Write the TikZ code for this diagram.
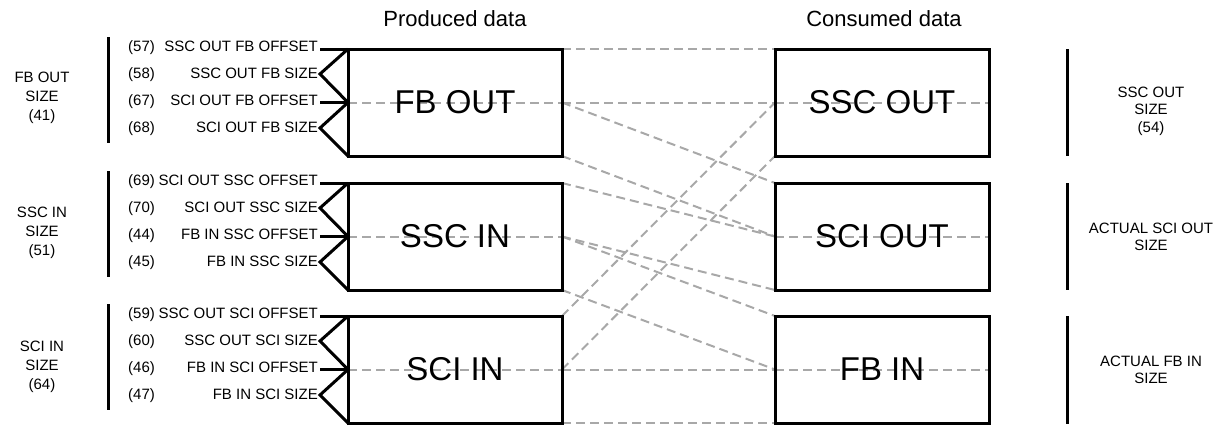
\documentclass[tikz,border=0pt]{standalone}
\usepackage{fontspec}
\setmainfont{Liberation Sans}
\usetikzlibrary{backgrounds}
\definecolor{lnk}{RGB}{168,168,168}
\begin{document}
\begin{tikzpicture}[x=1pt,y=-1pt,
  box/.style={draw=black, line width=3pt, minimum width=214pt, minimum height=107pt,
    inner sep=0pt, outer sep=0pt, font=\fontsize{33}{36}\selectfont},
  link/.style={draw=lnk, line width=2pt, dash pattern=on 9pt off 5pt},
  thk/.style={line width=3pt},
  num/.style={anchor=west, inner sep=0pt, text height=11pt, text depth=3pt, font=\fontsize{15}{17}\selectfont},
  par/.style={anchor=east, inner ysep=0pt, inner xsep=2pt, text height=11pt, text depth=3pt, font=\fontsize{15}{17}\selectfont},
  side/.style={align=center, inner sep=0pt, font=\fontsize{15}{19}\selectfont},
  rside/.style={align=center, inner sep=0pt, font=\fontsize{15}{17.5}\selectfont},
  head/.style={inner sep=0pt, font=\fontsize{22}{26}\selectfont},
  bar/.style={line width=3pt},
]
\useasboundingbox (0,0) rectangle (1223,424);

% headings
\node[head] (hp) at (455,19) {Produced data};
\node[head] (hc) at (884,19) {Consumed data};

% boxes
\node[box] (FBO)  at (455,102.5) {FB OUT};
\node[box] (SSCI) at (455,236.5) {SSC IN};
\node[box] (SCII) at (455,369.5) {SCI IN};
\node[box] (SSCO) at (882,102.5) {SSC OUT};
\node[box] (SCIO) at (882,236.5) {SCI OUT};
\node[box] (FBI)  at (882,369.5) {FB IN};

% left side labels and bars
\node[side] (l1) at (42,98) {FB OUT\\SIZE\\(41)};
\node[side] (l2) at (42,233) {SSC IN\\SIZE\\(51)};
\node[side] (l3) at (42,367) {SCI IN\\SIZE\\(64)};
\coordinate (lb1a) at (108,37);  \coordinate (lb1b) at (108,143);
\coordinate (lb2a) at (108,171); \coordinate (lb2b) at (108,277);
\coordinate (lb3a) at (108,304); \coordinate (lb3b) at (108,410);
\draw[bar] (lb1a) -- (lb1b);
\draw[bar] (lb2a) -- (lb2b);
\draw[bar] (lb3a) -- (lb3b);

% right side labels and bars
\node[rside] (r1) at (1151,111) {SSC OUT\\SIZE\\(54)};
\node[rside] (r2) at (1151,237) {ACTUAL SCI OUT\\SIZE};
\node[rside] (r3) at (1151,370) {ACTUAL FB IN\\SIZE};
\draw[bar] (SSCO.north east -| 1067,0) coordinate (rb1a) -- (SSCO.south east -| 1067,0) coordinate (rb1b);
\draw[bar] (SCIO.north east -| 1067,0) coordinate (rb2a) -- (SCIO.south east -| 1067,0) coordinate (rb2b);
\draw[bar] (FBI.north east -| 1067,0) coordinate (rb3a) -- (1067,424) coordinate (rb3b);

% parameter labels, group 1
\node[num] (n57) at (128,47) {(57)};
\node[par] (p57) at (320,47) {SSC OUT FB OFFSET};
\node[num] (n58) at (128,74) {(58)};
\node[par] (p58) at (320,74) {SSC OUT FB SIZE};
\node[num] (n67) at (128,101) {(67)};
\node[par] (p67) at (320,101) {SCI OUT FB OFFSET};
\node[num] (n68) at (128,128) {(68)};
\node[par] (p68) at (320,128) {SCI OUT FB SIZE};
% group 2
\node[num] (n69) at (128,181) {(69)};
\node[par] (p69) at (320,181) {SCI OUT SSC OFFSET};
\node[num] (n70) at (128,208) {(70)};
\node[par] (p70) at (320,208) {SCI OUT SSC SIZE};
\node[num] (n44) at (128,235) {(44)};
\node[par] (p44) at (320,235) {FB IN SSC OFFSET};
\node[num] (n45) at (128,262) {(45)};
\node[par] (p45) at (320,262) {FB IN SSC SIZE};
% group 3
\node[num] (n59) at (128,314) {(59)};
\node[par] (p59) at (320,314) {SSC OUT SCI OFFSET};
\node[num] (n60) at (128,341) {(60)};
\node[par] (p60) at (320,341) {SSC OUT SCI SIZE};
\node[num] (n46) at (128,368) {(46)};
\node[par] (p46) at (320,368) {FB IN SCI OFFSET};
\node[num] (n47) at (128,395) {(47)};
\node[par] (p47) at (320,395) {FB IN SCI SIZE};

% offset marks and size brackets
\foreach \b/\oa/\sa/\ob/\sb in {FBO/p57/p58/p67/p68, SSCI/p69/p70/p44/p45, SCII/p59/p60/p46/p47}{
  \draw[thk] (\oa.east |- \b.north west) -- (\b.north west);
  \draw[thk] (\ob.east |- \b.west) -- (\b.west);
  \draw[thk] (\b.north west) -- (\sa.east) -- (\b.west);
  \draw[thk] (\b.west) -- (\sb.east) -- (\b.south west);
}

% dashed mapping lines
\begin{scope}[on background layer]
  \foreach \b in {FBO,SSCI,SCII,SSCO,SCIO,FBI}{
    \draw[link] (\b.west) -- (\b.east);
  }
  \draw[link] (FBO.north east) -- (SSCO.north west);
  \draw[link] (FBO.east) -- (SSCO.west);
  \draw[link] (FBO.east) -- (SCIO.north west);
  \draw[link] (FBO.south east) -- (SCIO.west);
  \draw[link] (SSCI.north east) -- (SCIO.west);
  \draw[link] (SSCI.east) -- (SCIO.south west);
  \draw[link] (SSCI.east) -- (FBI.north west);
  \draw[link] (SSCI.south east) -- (FBI.west);
  \draw[link] (SCII.north east) -- (SSCO.west);
  \draw[link] (SCII.east) -- (SSCO.south west);
  \draw[link] (SCII.east) -- (FBI.west);
  \draw[link] (SCII.south east) -- (FBI.south west);
\end{scope}
\end{tikzpicture}
\end{document}
